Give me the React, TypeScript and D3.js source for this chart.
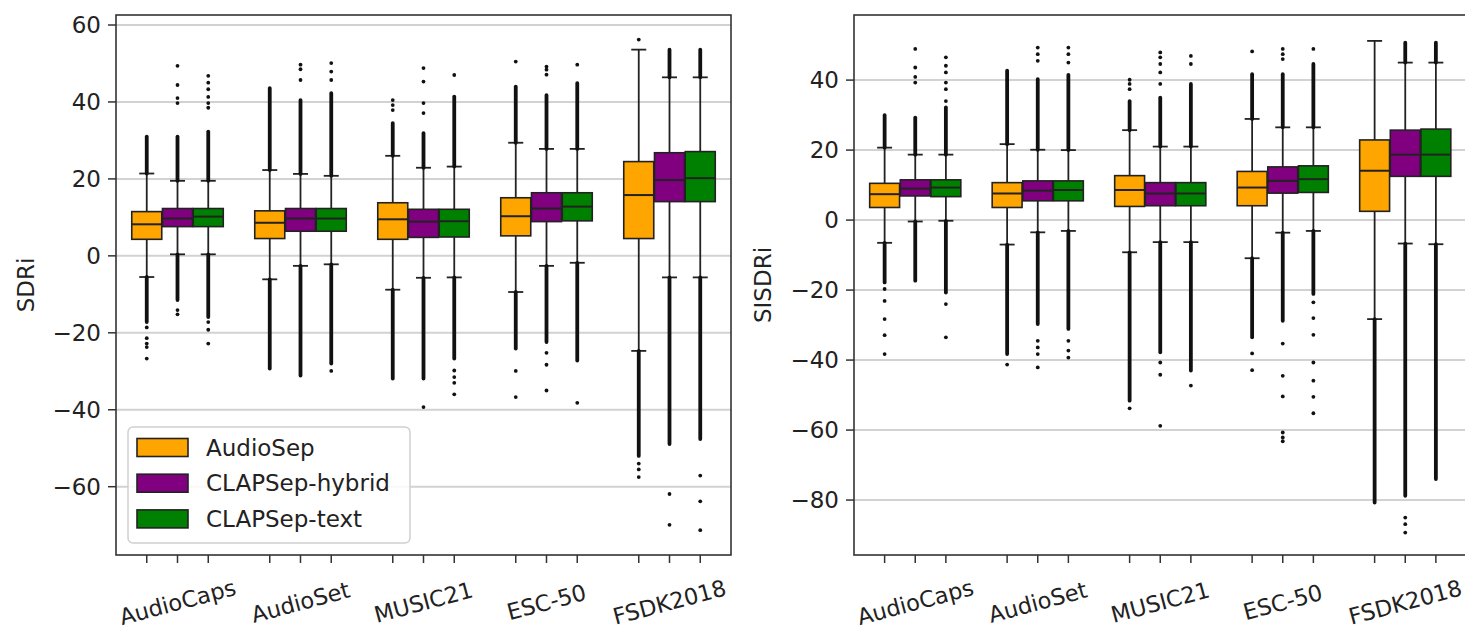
import React from "react";
import * as d3 from "d3";

const categories = ["AudioCaps", "AudioSet", "MUSIC21", "ESC-50", "FSDK2018"];
const models = ["AudioSep", "CLAPSep-hybrid", "CLAPSep-text"];
const modelColors = ["#FFA500", "#800080", "#008000"];

// ---------- SDRi (left panel) : [model][category] ----------
const sdriQ1 = [[4.3, 4.5, 4.3, 5.2, 4.5], [7.6, 6.4, 4.8, 8.9, 14.1], [7.6, 6.4, 4.9, 9.1, 14.1]];
const sdriMedian = [[8.2, 8.6, 9.5, 10.3, 15.8], [9.7, 9.7, 8.9, 12.3, 19.7], [10.2, 9.7, 9.0, 12.8, 20.2]];
const sdriQ3 = [[11.5, 11.7, 13.8, 15.1, 24.5], [12.3, 12.3, 12.1, 16.4, 26.8], [12.3, 12.3, 12.1, 16.4, 27.1]];
const sdriWhiskerLow = [[-5.5, -6.1, -8.8, -9.4, -24.7], [0.4, -2.6, -5.7, -2.6, -5.6], [0.4, -2.2, -5.6, -1.8, -5.6]];
const sdriWhiskerHigh = [[21.4, 22.3, 26, 29.4, 53.6], [19.5, 21.3, 22.9, 27.8, 46.4], [19.5, 20.8, 23.2, 27.8, 46.4]];
const sdriDenseHigh = [[31, 43.6, 34.5, 44, null], [31, 40.5, 31.9, 41.8, 53.6], [32.3, 42.3, 41.4, 44.9, 53.6]];
const sdriDenseLow = [[-17.2, -29.3, -31.9, -24.1, -52], [-11.5, -31.1, -31.9, -22.4, -48.9], [-15.9, -28, -26.7, -27.2, -47.6]];
const sdriSparseHigh = [
  [[], [], [37.9, 39.2, 40.5], [50.5], [56.2]],
  [[39.7, 41, 44.4, 49.4], [45.7, 48.5, 49.7], [37.1, 39.7, 45.3, 48.8], [47.1, 48.4, 49.2], []],
  [[38.5, 39.7, 41.3, 43.3, 45, 46.8], [45.7, 47.9, 50.1], [47], [49.7], []],
];
const sdriSparseLow = [
  [[-18.6, -21.4, -22.8, -23.7, -26.7], [], [], [-29.9, -36.7], [-54, -55.5, -57.5]],
  [[-14.1, -15.2], [], [-39.3], [-25.2, -28.3, -35], [-61.9, -69.9]],
  [[-17.2, -19.2, -22.8], [-29.9], [-29.8, -31.5, -33, -36], [-38.2], [-57.1, -63.8, -71.3]],
];
const sdriTicks = [60, 40, 20, 0, -20, -40, -60];

// ---------- SISDRi (right panel) : [model][category] ----------
const sisdrQ1 = [[3.6, 3.6, 3.9, 4.1, 2.5], [6.9, 5.5, 4.1, 7.7, 12.5], [6.7, 5.5, 4.1, 7.9, 12.5]];
const sisdrMedian = [[7.4, 7.6, 8.6, 9.3, 14.1], [9.0, 8.4, 7.6, 11.2, 18.7], [9.3, 8.6, 7.6, 11.7, 18.7]];
const sisdrQ3 = [[10.5, 10.7, 12.7, 13.9, 22.9], [11.5, 11.2, 10.7, 15.2, 25.7], [11.5, 11.2, 10.7, 15.5, 26]];
const sisdrWhiskerLow = [[-6.5, -7, -9.2, -10.9, -28.3], [-0.4, -3.5, -6.3, -3.6, -6.7], [-0.2, -3.1, -6.3, -3.1, -6.9]];
const sisdrWhiskerHigh = [[20.7, 21.7, 25.7, 28.9, 51.2], [18.7, 20.1, 21, 26.5, 45], [18.7, 20, 21, 26.5, 45]];
const sisdrDenseHigh = [[30, 42.7, 34, 41.7, null], [29.3, 40.3, 35, 41.7, 50.7], [32.2, 41.5, 38.9, 44.6, 50.7]];
const sisdrDenseLow = [[-17.8, -38.3, -51.6, -33.5, -80.7], [-17.3, -29.7, -37.8, -28.8, -78.8], [-20.7, -31.1, -43, -21.1, -74]];
const sisdrSparseHigh = [
  [[], [], [37.4, 38.9, 40.1], [48.2], []],
  [[39.3, 40.9, 43.6, 48.9], [45.5, 47.4, 49.3], [38.9, 42.2, 44.6, 46.5, 47.9], [46, 47.4, 48.9], []],
  [[34, 37.4, 39.3, 42.2, 44.1, 46.5], [45, 47.4, 49.3], [44.6, 46.9], [48.9], []],
];
const sisdrSparseLow = [
  [[-19.7, -23.1, -28.3, -32.9, -38.3], [-41.3], [-53.8], [-38.1, -42.9], []],
  [[], [-34.5, -36.4, -38.3, -42.1], [-40.7, -44.2, -58.8], [-35.3, -44.5, -50.4, -60.7, -62.1, -63.2], [-85, -86.9, -89.3]],
  [[-24, -33.5], [-34.5, -37.3, -39.3], [-47.3], [-23.5, -28, -32.8, -40.7, -45.9, -50.5, -55.2], []],
];
const sisdrTicks = [40, 20, 0, -20, -40, -60, -80];

const FONT = "'DejaVu Sans', sans-serif";
const INK = "#222";

type PanelProps = {
  left: number; right: number; top: number; bottom: number;
  yDomain: [number, number]; ticks: number[]; label: string; labelX: number;
  q1: number[][]; med: number[][]; q3: number[][]; wlo: number[][]; whi: number[][];
  denseHi: (number | null)[][]; denseLo: (number | null)[][];
  sparseHi: number[][][]; sparseLo: number[][][];
  legend?: boolean;
};

const fmt = (v: number) => (v < 0 ? "\u2212" + Math.abs(v) : String(v));

function Panel(p: PanelProps) {
  const x = d3.scaleLinear().domain([-0.5, categories.length - 0.5]).range([p.left, p.right]);
  const y = d3.scaleLinear().domain(p.yDomain).range([p.bottom, p.top]);
  const offsets = [-0.25, 0, 0.25];
  const halfW = 0.122;
  const capHalf = 0.061;
  const elems: React.ReactNode[] = [];

  models.forEach((_, m) => {
    categories.forEach((__, c) => {
      const pos = c + offsets[m];
      const cx = x(pos);
      const bx0 = x(pos - halfW);
      const bx1 = x(pos + halfW);
      const k = `${m}-${c}`;
      elems.push(<line key={"wl" + k} x1={cx} x2={cx} y1={y(p.q1[m][c])} y2={y(p.wlo[m][c])} stroke={INK} strokeWidth={1.8} />);
      elems.push(<line key={"wh" + k} x1={cx} x2={cx} y1={y(p.q3[m][c])} y2={y(p.whi[m][c])} stroke={INK} strokeWidth={1.8} />);
      elems.push(<line key={"cl" + k} x1={x(pos - capHalf)} x2={x(pos + capHalf)} y1={y(p.wlo[m][c])} y2={y(p.wlo[m][c])} stroke={INK} strokeWidth={1.8} />);
      elems.push(<line key={"ch" + k} x1={x(pos - capHalf)} x2={x(pos + capHalf)} y1={y(p.whi[m][c])} y2={y(p.whi[m][c])} stroke={INK} strokeWidth={1.8} />);
      const dh = p.denseHi[m][c];
      if (dh !== null) elems.push(<line key={"dh" + k} x1={cx} x2={cx} y1={y(p.whi[m][c])} y2={y(dh)} stroke="#111" strokeWidth={3.8} strokeLinecap="round" />);
      const dl = p.denseLo[m][c];
      if (dl !== null) elems.push(<line key={"dl" + k} x1={cx} x2={cx} y1={y(p.wlo[m][c])} y2={y(dl)} stroke="#111" strokeWidth={3.8} strokeLinecap="round" />);
      [...p.sparseHi[m][c], ...p.sparseLo[m][c]].forEach((v, i) => {
        elems.push(<circle key={"o" + k + "-" + i} cx={cx} cy={y(v)} r={1.9} fill="#111" />);
      });
      elems.push(<rect key={"b" + k} x={bx0} y={y(p.q3[m][c])} width={bx1 - bx0} height={y(p.q1[m][c]) - y(p.q3[m][c])} fill={modelColors[m]} stroke={INK} strokeWidth={1.6} />);
      elems.push(<line key={"md" + k} x1={bx0} x2={bx1} y1={y(p.med[m][c])} y2={y(p.med[m][c])} stroke={INK} strokeWidth={2} />);
    });
  });

  const midY = (p.top + p.bottom) / 2;
  const labelY = 602;
  return (
    <g>
      {p.ticks.map((t) => (
        <line key={"g" + t} x1={p.left} x2={p.right} y1={y(t)} y2={y(t)} stroke="#d2d2d2" strokeWidth={2} />
      ))}
      {elems}
      <rect x={p.left} y={p.top} width={p.right - p.left} height={p.bottom - p.top} fill="none" stroke="#333" strokeWidth={1.6} />
      {p.ticks.map((t) => (
        <g key={"t" + t}>
          <line x1={p.left - 8} x2={p.left} y1={y(t)} y2={y(t)} stroke="#333" strokeWidth={1.5} />
          <text x={p.left - 15} y={y(t)} dy="0.36em" textAnchor="end" fontSize={23} fontFamily={FONT} fill={INK}>{fmt(t)}</text>
        </g>
      ))}
      {models.map((_, m) =>
        categories.map((__, c) => (
          <line key={"xt" + m + c} x1={x(c + offsets[m])} x2={x(c + offsets[m])} y1={p.bottom} y2={p.bottom + 8} stroke="#333" strokeWidth={1.5} />
        ))
      )}
      {categories.map((cat, c) => (
        <text key={"xl" + cat} x={x(c)} y={labelY} textAnchor="middle" dy="0.36em" fontSize={22.5} fontFamily={FONT} fill={INK}
          transform={`rotate(-15 ${x(c)} ${labelY})`}>{cat}</text>
      ))}
      <text x={p.labelX} y={midY} textAnchor="middle" dy="0.36em" fontSize={23} fontFamily={FONT} fill={INK}
        transform={`rotate(-90 ${p.labelX} ${midY})`}>{p.label}</text>
      {p.legend && (
        <g>
          <rect x={128} y={427} width={282} height={116} rx={5} fill="white" fillOpacity={0.85} stroke="#d0d0d0" strokeWidth={1.5} />
          {models.map((name, m) => (
            <g key={"lg" + name}>
              <rect x={137} y={438.5 + m * 35.7} width={51} height={18} fill={modelColors[m]} stroke={INK} strokeWidth={1.6} />
              <text x={206} y={447.5 + m * 35.7} dy="0.36em" fontSize={23} fontFamily={FONT} fill={INK}>{name}</text>
            </g>
          ))}
        </g>
      )}
    </g>
  );
}

export default function App() {
  return (
    <svg width={1465} height={634} style={{ position: "absolute", left: 0, top: 0, background: "white" }}>
      <rect x={0} y={0} width={1465} height={634} fill="white" />
      <Panel left={116} right={731} top={15} bottom={555} yDomain={[-77.75, 62.6]} ticks={sdriTicks} label="SDRi" labelX={26}
        q1={sdriQ1} med={sdriMedian} q3={sdriQ3} wlo={sdriWhiskerLow} whi={sdriWhiskerHigh}
        denseHi={sdriDenseHigh} denseLo={sdriDenseLow} sparseHi={sdriSparseHigh} sparseLo={sdriSparseLow} legend />
      <Panel left={854} right={1466.5} top={15} bottom={555} yDomain={[-95.7, 58.6]} ticks={sisdrTicks} label="SISDRi" labelX={763}
        q1={sisdrQ1} med={sisdrMedian} q3={sisdrQ3} wlo={sisdrWhiskerLow} whi={sisdrWhiskerHigh}
        denseHi={sisdrDenseHigh} denseLo={sisdrDenseLow} sparseHi={sisdrSparseHigh} sparseLo={sisdrSparseLow} />
    </svg>
  );
}
